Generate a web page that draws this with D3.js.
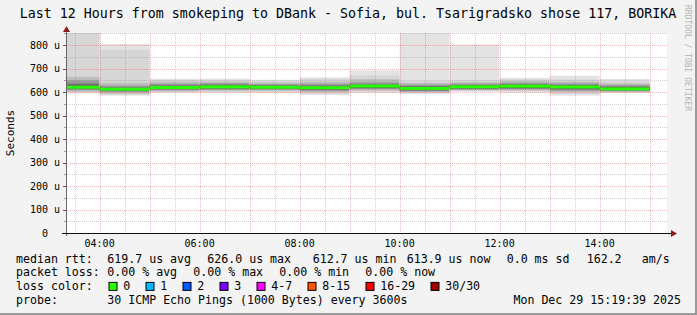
<!DOCTYPE html>
<html>
<head>
<meta charset="utf-8">
<script src="https://cdn.jsdelivr.net/npm/d3@7"></script>
<style>
  body { margin: 0; background: #f3f3f3; }
  text { font-family: "DejaVu Sans Mono", monospace; white-space: pre; }
</style>
</head>
<body>
<svg id="chart" width="697" height="315"></svg>
<script>
// hourly buckets (start hour), 30 pings per bucket
const hours = [3, 4, 5, 6, 7, 8, 9, 10, 11, 12, 13, 14];
const median = [621, 612.7, 620, 622.5, 621, 619, 626, 616, 623, 625.5, 622, 613.9];
// smoke edges, outer pairs first (ping 1, 2, 4, 7, 10, 13 of 30)
const smokeHigh = [
    [860, 860, 665, 650, 636, 627],
    [805, 780, 640, 628, 620, 616],
    [657, 652, 645, 636, 629, 624],
    [658, 652, 645, 638, 632, 627],
    [653, 648, 641, 634, 629, 625],
    [663, 657, 645, 636, 628, 623],
    [693, 671, 655, 642, 634, 630],
    [860, 648, 640, 632, 626, 621],
    [803, 652, 643, 636, 630, 627],
    [661, 655, 648, 640, 634, 630],
    [670, 653, 645, 637, 631, 626],
    [656, 646, 638, 630, 623, 619]
];
const smokeLow = [
    [595, 598, 603, 608, 613, 617],
    [585, 588, 594, 600, 605, 609],
    [597, 600, 604, 608, 612, 616],
    [597, 601, 606, 610, 614, 618],
    [596, 601, 606, 610, 614, 617],
    [588, 593, 600, 605, 610, 614],
    [597, 601, 607, 612, 617, 621],
    [593, 596, 600, 603, 607, 611],
    [602, 605, 608, 611, 614, 618],
    [598, 603, 608, 612, 616, 620],
    [585, 592, 600, 606, 612, 617],
    [596, 598, 601, 604, 607, 610]
];
const yTicks = [0, 100, 200, 300, 400, 500, 600, 700, 800];

const title = "Last 12 Hours from smokeping to DBank - Sofia, bul. Tsarigradsko shose 117, BORIKA";
const rttStats = ["619.7 us avg", "626.0 us max", "612.7 us min", "613.9 us now", "0.0 ms sd", "162.2", "am/s"];
const lossStats = ["0.00 % avg", "0.00 % max", "0.00 % min", "0.00 % now"];
const lossLabels = ["0", "1", "2", "3", "4-7", "8-15", "16-29", "30/30"];
const lossColors = ["#26ff00", "#00b8ff", "#0059ff", "#7e00ff", "#ff00ff", "#ff5500", "#ff0000", "#a00000"];
const probeText = "30 ICMP Echo Pings (1000 Bytes) every 3600s";
const stamp = "Mon Dec 29 15:19:39 2025";

const svg = d3.select("#chart");
const W = 697, H = 315;
const plot = { left: 66, right: 666, top: 33, bottom: 233 };

// frame
svg.append("rect").attr("width", W).attr("height", H).attr("fill", "#f3f3f3");
svg.append("rect").attr("x", 0).attr("y", H - 2).attr("width", W).attr("height", 2).attr("fill", "#9a9a9a");
svg.append("rect").attr("x", W - 2).attr("y", 0).attr("width", 2).attr("height", H).attr("fill", "#9a9a9a");

// scales
const t0 = new Date(2025, 11, 29, 3, 19, 39);
const t1 = new Date(2025, 11, 29, 15, 19, 39);
const x = d3.scaleTime().domain([t0, t1]).range([plot.left, plot.right]);
const y = d3.scaleLinear().domain([0, 852]).range([plot.bottom, plot.top]);
const hourDate = h => new Date(2025, 11, 29, h, 0, 0);

// canvas
svg.append("rect")
    .attr("x", plot.left).attr("y", plot.top)
    .attr("width", plot.right - plot.left + 1).attr("height", plot.bottom - plot.top)
    .attr("fill", "#ffffff");

svg.append("clipPath").attr("id", "clip")
    .append("rect")
    .attr("x", plot.left).attr("y", plot.top)
    .attr("width", plot.right - plot.left).attr("height", plot.bottom - plot.top);

const g = svg.append("g").attr("clip-path", "url(#clip)");

// smoke
const greys = [227, 214, 189, 151, 113, 60].map(v => d3.rgb(v, v, v).toString());
hours.forEach((h, i) => {
    let x0 = x(hourDate(h)), x1 = x(hourDate(h + 1));
    smokeHigh[i].forEach((hi, k) => {
        let lo = smokeLow[i][k];
        g.append("rect")
            .attr("x", x0).attr("width", x1 - x0)
            .attr("y", y(hi)).attr("height", y(lo) - y(hi))
            .attr("fill", greys[k]);
    });
    // median, coloured by loss (all 0 here)
    g.append("rect")
        .attr("x", x0).attr("width", x1 - x0)
        .attr("y", y(median[i]) - 1.5).attr("height", 3)
        .attr("fill", lossColors[0]);
});

// grid (drawn over the data, like rrdtool)
const majorCol = "rgba(205,70,70,0.36)", minorCol = "rgba(130,130,130,0.38)";
const grid = svg.append("g").attr("shape-rendering", "crispEdges");
d3.range(0, 852, 50).forEach(v => {
    if (v === 0) return;
    grid.append("line")
        .attr("x1", plot.left).attr("x2", plot.right + 1)
        .attr("y1", Math.round(y(v)) + 0.5).attr("y2", Math.round(y(v)) + 0.5)
        .attr("stroke", v % 100 === 0 ? majorCol : minorCol)
        .attr("stroke-dasharray", "1,1");
    grid.append("line")
        .attr("x1", plot.left - (v % 100 === 0 ? 3 : 2)).attr("x2", plot.left)
        .attr("y1", Math.round(y(v)) + 0.5).attr("y2", Math.round(y(v)) + 0.5)
        .attr("stroke", v % 100 === 0 ? "#555" : "#999");
});
x.ticks(d3.timeMinute.every(30)).forEach(d => {
    let major = d.getMinutes() === 0;
    let px = Math.round(x(d)) + 0.5;
    grid.append("line")
        .attr("x1", px).attr("x2", px)
        .attr("y1", plot.top).attr("y2", plot.bottom)
        .attr("stroke", major ? majorCol : minorCol)
        .attr("stroke-dasharray", "1,1");
});

// axes
svg.append("line")
    .attr("x1", plot.left + 0.5).attr("x2", plot.left + 0.5)
    .attr("y1", plot.bottom + 3).attr("y2", plot.top - 2)
    .attr("stroke", "#666").attr("shape-rendering", "crispEdges");
svg.append("line")
    .attr("x1", plot.left - 4).attr("x2", plot.right + 5)
    .attr("y1", plot.bottom + 0.5).attr("y2", plot.bottom + 0.5)
    .attr("stroke", "#111").attr("shape-rendering", "crispEdges");
svg.append("path")
    .attr("d", `M${plot.left - 3},${plot.top - 1} L${plot.left + 4},${plot.top - 1} L${plot.left + 0.5},${plot.top - 7} Z`)
    .attr("fill", "#8b1a1a");
svg.append("path")
    .attr("d", `M${plot.right + 5},${plot.bottom - 3} L${plot.right + 5},${plot.bottom + 4} L${plot.right + 11},${plot.bottom + 0.5} Z`)
    .attr("fill", "#8b1a1a");

// y labels
yTicks.forEach(v => {
    svg.append("text")
        .attr("x", 60).attr("y", y(v) + 3.5)
        .attr("text-anchor", "end")
        .style("font-size", "10px")
        .text(v === 0 ? "0  " : `${v} u`);
});

// x labels
const fmt = d3.timeFormat("%H:%M");
x.ticks(d3.timeHour.every(2)).forEach(d => {
    svg.append("text")
        .attr("x", x(d)).attr("y", 246.5)
        .attr("text-anchor", "middle")
        .style("font-size", "10px")
        .text(fmt(d));
});

// titles
svg.append("text")
    .attr("x", 348).attr("y", 18)
    .attr("text-anchor", "middle")
    .style("font-size", "13.3px")
    .text(title);

svg.append("text")
    .attr("transform", `translate(14,${(plot.top + plot.bottom) / 2}) rotate(-90)`)
    .attr("text-anchor", "middle")
    .style("font-size", "11px")
    .text("Seconds");

svg.append("text")
    .attr("transform", "translate(685,5) rotate(90)")
    .style("font-size", "8px")
    .attr("fill", "#b4b4b4")
    .text("RRDTOOL / TOBI OETIKER");

// legend
const rows = [262.5, 276.2, 289.9, 303.6];
const legend = svg.append("g").style("font-size", "11.6px");
const put = (px, py, s, anchor) => legend.append("text")
    .attr("x", px).attr("y", py)
    .attr("text-anchor", anchor || "start")
    .text(s);

put(16, rows[0], "median rtt:");
[107.3, 207.3, 312.7, 406.7, 506.7, 586.7, 641.7].forEach((px, i) => put(px, rows[0], rttStats[i]));

put(16, rows[1], "packet loss:");
lossStats.forEach((s, i) => put(107.3 + i * 86, rows[1], s));

put(16, rows[2], "loss color:");
let bx = 108.5;
lossLabels.forEach((s, i) => {
    legend.append("rect")
        .attr("x", bx + 0.5).attr("y", rows[2] - 7.5)
        .attr("width", 8).attr("height", 8)
        .attr("fill", lossColors[i]).attr("stroke", "#000").attr("stroke-width", 1);
    put(bx + 14.7, rows[2], s);
    bx += 30 + 7 * s.length;
});

put(16, rows[3], "probe:");
put(107.3, rows[3], probeText);
put(681, rows[3], stamp, "end");
</script>
</body>
</html>
